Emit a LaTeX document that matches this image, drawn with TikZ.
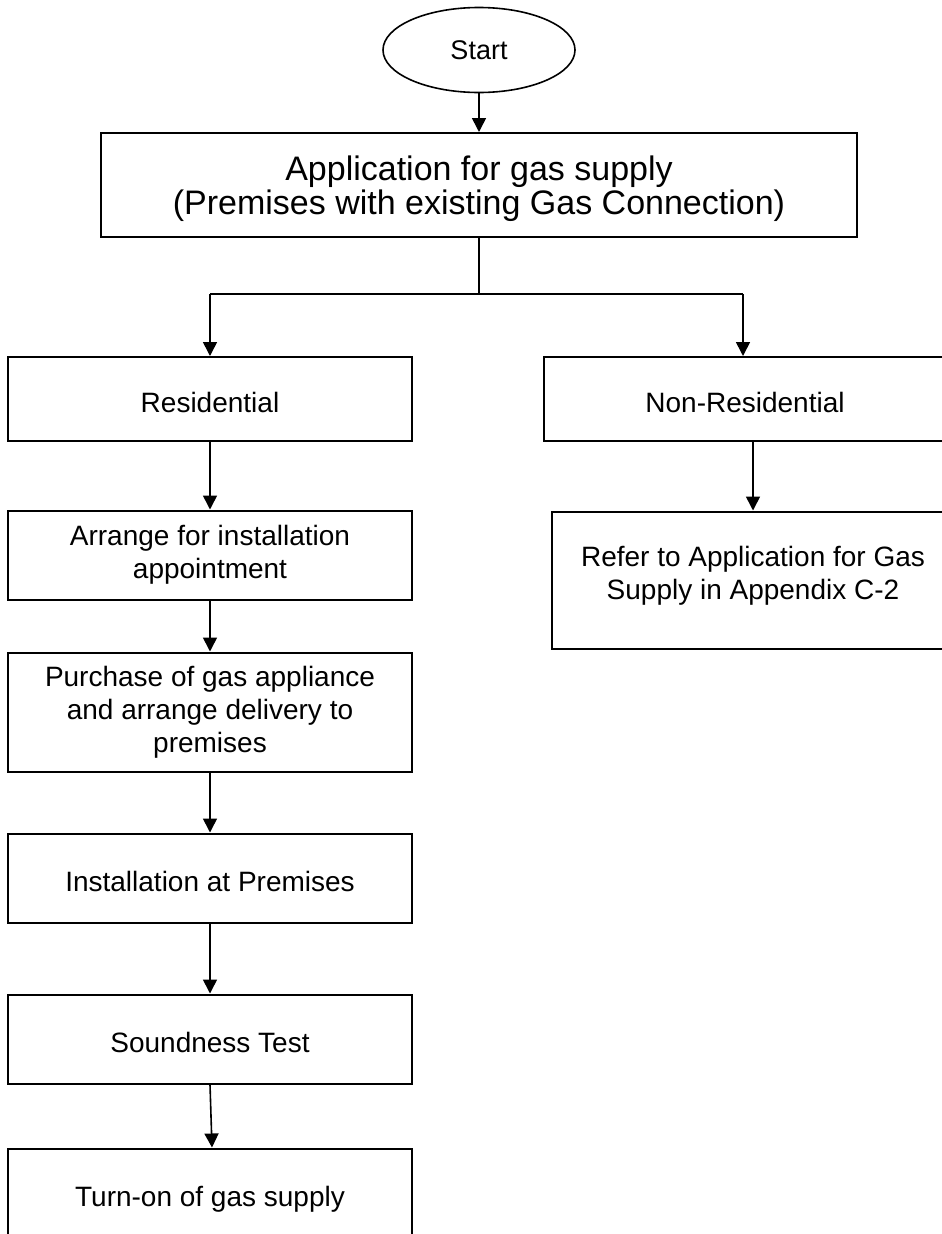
\documentclass[tikz,border=0pt]{standalone}
\usepackage{fontspec}
\setmainfont{Liberation Sans}
\usetikzlibrary{arrows.meta,shapes.geometric,positioning}
\begin{document}
\begin{tikzpicture}[x=1pt,y=-1pt,
  boxline/.style={draw, line width=2pt, inner sep=0pt},
  stepbox/.style={boxline, align=center,
    minimum width=404pt, font=\fontsize{28}{33}\selectfont},
  onetext/.style={text height=26pt, text depth=0pt},
  plaintext/.style={inner sep=0pt, align=center, font=\fontsize{28}{33}\selectfont},
  bigtext/.style={inner sep=0pt, align=center, font=\fontsize{34}{34}\selectfont},
  startnode/.style={draw, ellipse, line width=1.6pt, inner sep=0pt,
    minimum width=192pt, minimum height=85pt, font=\fontsize{27}{30}\selectfont},
  conn/.style={line width=1.6pt},
  arr/.style={conn, -{Triangle[length=14pt,width=14pt]}}
]
\useasboundingbox (0,0) rectangle (942,1234);
\fill[white] (0,0) rectangle (942,1234);

\node[startnode] (start) at (479,50) {Start};
\node[boxline, minimum width=756pt, minimum height=104pt] (app) at (479,185) {};
\node[bigtext] (apptext) at (479,189)
  {Application for gas supply\\(Premises with existing Gas Connection)};

\coordinate (split) at (479,294);
\coordinate (bl) at (210,294);
\coordinate (br) at (743,294);

\node[stepbox, onetext, minimum height=84pt] (res) at (210,399) {Residential};

% right column boxes run past the page edge
\node[boxline, minimum width=440pt, minimum height=84pt, anchor=west] (nonres) at (543,399) {};
\node[plaintext, onetext] (nonrestext) at (745,399) {Non-Residential};
\node[boxline, minimum width=440pt, minimum height=137pt, anchor=west] (refer) at (551,580) {};
\node[plaintext] (refertext) at (753,576)
  {Refer to Application for Gas\\Supply in Appendix C-2};

\node[stepbox, minimum height=89pt] (arrange) at (210,555)
  {Arrange for installation\\appointment};
\node[stepbox, minimum height=119pt] (purchase) at (210,712)
  {Purchase of gas appliance\\and arrange delivery to\\premises};
\node[stepbox, onetext, minimum height=89pt] (install) at (210,878) {Installation at Premises};
\node[stepbox, onetext, minimum height=89pt] (sound) at (210,1039) {Soundness Test};
\node[stepbox, onetext, minimum height=89pt] (turn) at (210,1193) {Turn-on of gas supply};

\draw[arr] (start.south) -- (app.north);
\draw[conn] (app.south) -- (split);
\draw[conn] (bl) -- (br);
\draw[arr] (bl) -- (res.north);
\draw[arr] (br) -- (br |- nonres.north);
\draw[arr] (refertext |- nonres.south) -- (refertext |- refer.north);
\draw[arr] (res.south) -- (arrange.north);
\draw[arr] (arrange.south) -- (purchase.north);
\draw[arr] (purchase.south) -- (install.north);
\draw[arr] (install.south) -- (sound.north);
\draw[arr] (sound.south) -- ([xshift=2pt]turn.north);
\end{tikzpicture}
\end{document}
